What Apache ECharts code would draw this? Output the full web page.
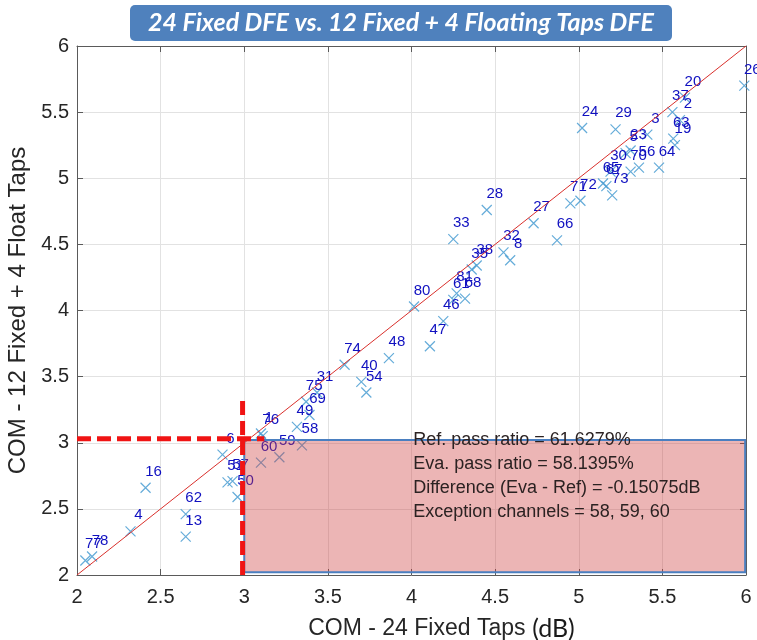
<!DOCTYPE html>
<html>
<head>
<meta charset="utf-8">
<script src="https://cdn.jsdelivr.net/npm/echarts@6/dist/echarts.min.js"></script>
<style>
  html, body { margin: 0; padding: 0; background: #fff; }
  #chart { width: 757px; height: 640px; }
</style>
</head>
<body>
<div id="chart"></div>
<script>
// channel ids and COM values (dB)
const channels = [26, 20, 37, 2, 63, 19, 3, 29, 23, 5, 64, 56, 70, 30, 65, 67, 73, 72, 71, 27,
                  66, 24, 28, 33, 32, 8, 38, 35, 81, 61, 68, 80, 46, 47, 48, 74, 40, 54, 31, 75,
                  69, 49, 58, 1, 76, 59, 60, 6, 51, 57, 50, 16, 62, 13, 4, 77, 78];
const comFixed = [5.99, 5.635, 5.56, 5.605, 5.565, 5.575, 5.41, 5.22, 5.31, 5.28, 5.48, 5.36, 5.31, 5.19, 5.145, 5.165, 5.20, 5.01, 4.95, 4.73,
                  4.87, 5.02, 4.45, 4.25, 4.55, 4.59, 4.39, 4.36, 4.27, 4.25, 4.32, 4.015, 4.19, 4.11, 3.865, 3.60, 3.70, 3.73, 3.435, 3.37,
                  3.39, 3.315, 3.345, 3.10, 3.11, 3.21, 3.10, 2.87, 2.90, 2.93, 2.96, 2.41, 2.65, 2.65, 2.32, 2.05, 2.09];
const comFloat = [5.70, 5.61, 5.50, 5.44, 5.30, 5.25, 5.33, 5.37, 5.21, 5.19, 5.08, 5.08, 5.05, 5.05, 4.96, 4.94, 4.87, 4.83, 4.81, 4.66,
                  4.53, 5.38, 4.76, 4.54, 4.44, 4.38, 4.34, 4.31, 4.13, 4.08, 4.09, 4.03, 3.92, 3.73, 3.64, 3.59, 3.46, 3.38, 3.38, 3.31,
                  3.21, 3.12, 2.98, 3.07, 3.05, 2.89, 2.85, 2.91, 2.70, 2.71, 2.59, 2.66, 2.46, 2.29, 2.33, 2.11, 2.14];

const refLine = [[2, 2], [6, 6]];
const limitH = [[2, 3.03], [3.12, 3.03]];
const limitV = [[2.99, 2], [2.99, 3.33]];
const failBox = [[3, 2.02, 5.995, 3.02]];
const noteAnchor = [4.01, 3.02];
const notes = [
    'Ref. pass ratio = 61.6279%',
    'Eva. pass ratio = 58.1395%',
    'Difference (Eva - Ref) = -0.15075dB',
    'Exception channels = 58, 59, 60'
];
const titleText = '24 Fixed DFE vs. 12 Fixed + 4 Floating Taps DFE';

const points = channels.map((c, i) => ({ value: [comFixed[i], comFloat[i]], name: String(c) }));

const axisColor = '#5a5a5a';
const baseAxis = {
    type: 'value',
    min: 2,
    max: 6,
    interval: 0.5,
    axisLine: { show: true, onZero: false, lineStyle: { color: axisColor, width: 1 } },
    axisTick: { show: true, inside: true, length: 6, lineStyle: { color: axisColor } },
    axisLabel: { color: '#262626', fontSize: 20, fontFamily: 'Liberation Sans' },
    splitLine: { show: true, lineStyle: { color: '#e2e2e2', width: 1 } }
};

let myChart = echarts.init(document.getElementById('chart'));
let option = {
    animation: false,
    backgroundColor: '#fff',
    grid: { left: 77, right: 11, top: 46, bottom: 65, outerBoundsMode: 'none' },
    xAxis: [
        Object.assign({}, baseAxis, {
            position: 'bottom',
            axisLabel: Object.assign({}, baseAxis.axisLabel, { margin: 12 }),
            name: '{a|COM - 24 Fixed Taps}  {b|(dB)}',
            nameLocation: 'middle',
            nameGap: 41,
            nameTextStyle: {
                padding: [0, 0, 0, 60],
                rich: {
                    a: { fontSize: 23, color: '#262626', fontFamily: 'Liberation Sans' },
                    b: { fontSize: 25, color: '#1a1a1a', fontFamily: 'Lato' }
                }
            }
        }),
        Object.assign({}, baseAxis, {
            position: 'top',
            axisLabel: { show: false },
            splitLine: { show: false }
        })
    ],
    yAxis: [
        Object.assign({}, baseAxis, {
            position: 'left',
            axisLabel: Object.assign({}, baseAxis.axisLabel, { margin: 8 }),
            name: 'COM - 12 Fixed + 4 Float Taps',
            nameLocation: 'middle',
            nameGap: 40,
            nameTextStyle: { fontSize: 24, color: '#262626', fontFamily: 'Liberation Sans' }
        }),
        Object.assign({}, baseAxis, {
            position: 'right',
            axisLabel: { show: false },
            splitLine: { show: false }
        })
    ],
    graphic: [{
        type: 'group',
        left: 130,
        top: 5,
        z: 100,
        children: [{
            type: 'rect',
            shape: { x: 0, y: 0, width: 542, height: 36, r: 5 },
            style: { fill: '#4f81bd' }
        }, {
            type: 'text',
            x: 271,
            y: 18,
            style: {
                text: titleText,
                fill: '#fff',
                font: 'italic bold 25px Lato',
                align: 'center',
                verticalAlign: 'middle'
            }
        }]
    }],
    series: [
        {
            type: 'scatter',
            z: 2,
            symbol: 'path://M0,0L10,10M10,0L0,10',
            symbolSize: 10,
            itemStyle: { color: 'transparent', borderColor: '#3f97d0', borderWidth: 1.2 },
            label: {
                show: true,
                position: 'top',
                distance: 3,
                offset: [8, 0],
                formatter: '{b}',
                color: '#1010c0',
                textBorderWidth: 0,
                opacity: 1,
                fontSize: 15,
                fontFamily: 'Liberation Sans'
            },
            data: points
        },
        {
            type: 'line',
            z: 3,
            symbol: 'none',
            lineStyle: { color: '#d9302c', width: 1 },
            data: refLine
        },
        {
            type: 'custom',
            z: 5,
            renderItem: function (params, api) {
                let p0 = api.coord([api.value(0), api.value(1)]);
                let p1 = api.coord([api.value(2), api.value(3)]);
                let t = api.coord(noteAnchor);
                return {
                    type: 'group',
                    children: [{
                        type: 'rect',
                        shape: { x: p0[0], y: p1[1], width: p1[0] - p0[0], height: p0[1] - p1[1] },
                        style: { fill: 'rgba(205,60,60,0.38)', stroke: '#4a7fc0', lineWidth: 2 }
                    }, {
                        type: 'text',
                        x: t[0],
                        y: t[1] - 12,
                        style: {
                            text: notes.join('\n'),
                            fill: '#2b2222',
                            font: '18px "Liberation Sans"',
                            lineHeight: 24,
                            align: 'left',
                            verticalAlign: 'top'
                        }
                    }]
                };
            },
            data: failBox
        },
        {
            type: 'line',
            z: 6,
            symbol: 'none',
            lineStyle: { color: '#f01414', width: 5, type: [14, 6] },
            data: limitH
        },
        {
            type: 'line',
            z: 6,
            symbol: 'none',
            lineStyle: { color: '#f01414', width: 5, type: [14, 6] },
            data: limitV
        }
    ]
};
myChart.setOption(option);
</script>
</body>
</html>
